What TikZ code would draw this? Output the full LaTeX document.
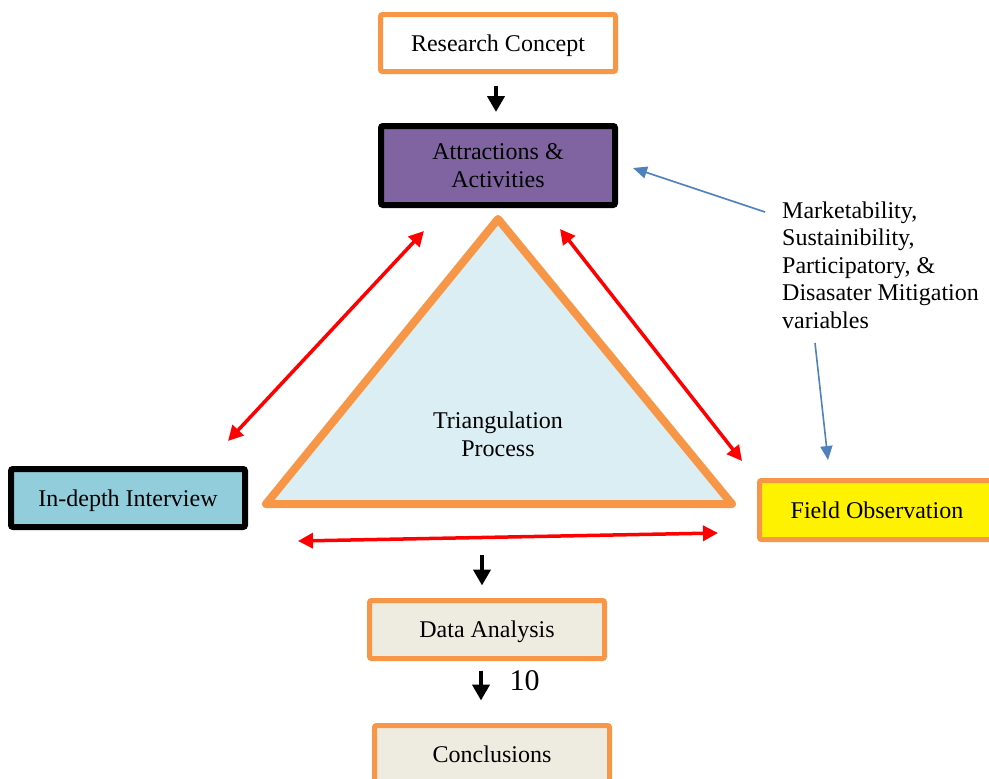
\documentclass[tikz,border=0pt]{standalone}
\usepackage{fontspec}
\setmainfont{Liberation Serif}
\usetikzlibrary{arrows.meta}

\definecolor{frameorange}{HTML}{F79646}
\definecolor{attrpurple}{HTML}{8064A2}
\definecolor{interviewblue}{HTML}{92CDDC}
\definecolor{trifill}{HTML}{DAEEF3}
\definecolor{paper}{HTML}{EEECE1}
\definecolor{linkblue}{HTML}{4F81BD}
\definecolor{linkred}{HTML}{FF0000}

\tikzset{
  every node/.style={font=\fontsize{24}{28}\selectfont, text=black},
  stagebox/.style={rectangle, draw, rounded corners=2pt, inner sep=0pt,
    minimum width=235, minimum height=58, align=center},
  oneline/.style={text height=16.4pt, text depth=0pt},
  orangebox/.style={stagebox, draw=frameorange, line width=5pt},
  darkbox/.style={stagebox, draw=black, line width=6pt},
  flowarrow/.style={draw=black, line width=4pt,
    -{Triangle[width=17pt,length=16pt]}},
  linkarrow/.style={draw=linkred, line width=3.5pt,
    {Triangle[width=15pt,length=15pt]}-{Triangle[width=15pt,length=15pt]}},
  notearrow/.style={draw=linkblue, line width=1.6pt,
    -{Triangle[width=12pt,length=14pt]}},
}

\begin{document}
\begin{tikzpicture}[x=1pt,y=-1pt]
\useasboundingbox (0,0) rectangle (989,779);

% triangulation core
\draw[frameorange, fill=trifill, line width=8pt, line join=round]
  (498,219) -- (732,504) -- (266,504) -- cycle;
\node[align=center] (tri) at (498,434) {Triangulation\\Process};

% stage boxes
\node[orangebox, oneline, fill=white, minimum height=57] (concept) at (498,43) {Research Concept};
\node[darkbox, fill=attrpurple, minimum width=234, minimum height=79] (attr) at (498,165.5) {Attractions \&\\Activities};
\node[darkbox, oneline, fill=interviewblue, minimum width=234] (interview) at (128,498) {In-depth Interview};
\node[orangebox, oneline, fill=yellow, minimum height=59] (field) at (877,510) {Field Observation};
\node[orangebox, oneline, fill=paper] (data) at (487,629.5) {Data Analysis};
\node[orangebox, oneline, fill=paper] (concl) at (492,754.5) {Conclusions};

% main flow
\draw[flowarrow, shorten <=11.5pt, shorten >=11pt]
  ([xshift=-2pt]concept.south) -- ([xshift=-2pt]attr.north);
\coordinate (flowstart) at (482,555);
\draw[flowarrow, shorten >=12.5pt] (flowstart) -- (flowstart |- data.north);
\draw[flowarrow, shorten <=9.5pt, shorten >=22.5pt]
  ([xshift=-6pt]data.south) -- ([xshift=-6pt]data.south |- concl.north);
\node[anchor=base west, font=\fontsize{30}{34}\selectfont] (pagenum) at (506,690) {10};

% triangulation links
\coordinate (leftTop) at (424,231);
\coordinate (leftLow) at (228,441);
\coordinate (rightTop) at (560,229);
\coordinate (rightLow) at (742,461);
\coordinate (baseLeft) at (298,541);
\coordinate (baseRight) at (718,533);
\draw[linkarrow] (leftTop) -- (leftLow);
\draw[linkarrow] (rightTop) -- (rightLow);
\draw[linkarrow] (baseLeft) -- (baseRight);

% variables note
\node[anchor=north west, align=left, inner sep=0pt, font=\fontsize{24}{27.4}\selectfont]
  (vars) at (782,201.6) {Marketability,\\Sustainibility,\\Participatory, \&\\Disasater Mitigation\\variables};
\coordinate (varsOut) at (765,212);
\coordinate (varsTip) at (633,168);
\coordinate (varsLow) at (815,343);
\coordinate (varsLowTip) at (828,460);
\draw[notearrow] (varsOut) -- (varsTip);
\draw[notearrow] (varsLow) -- (varsLowTip);
\end{tikzpicture}
\end{document}
